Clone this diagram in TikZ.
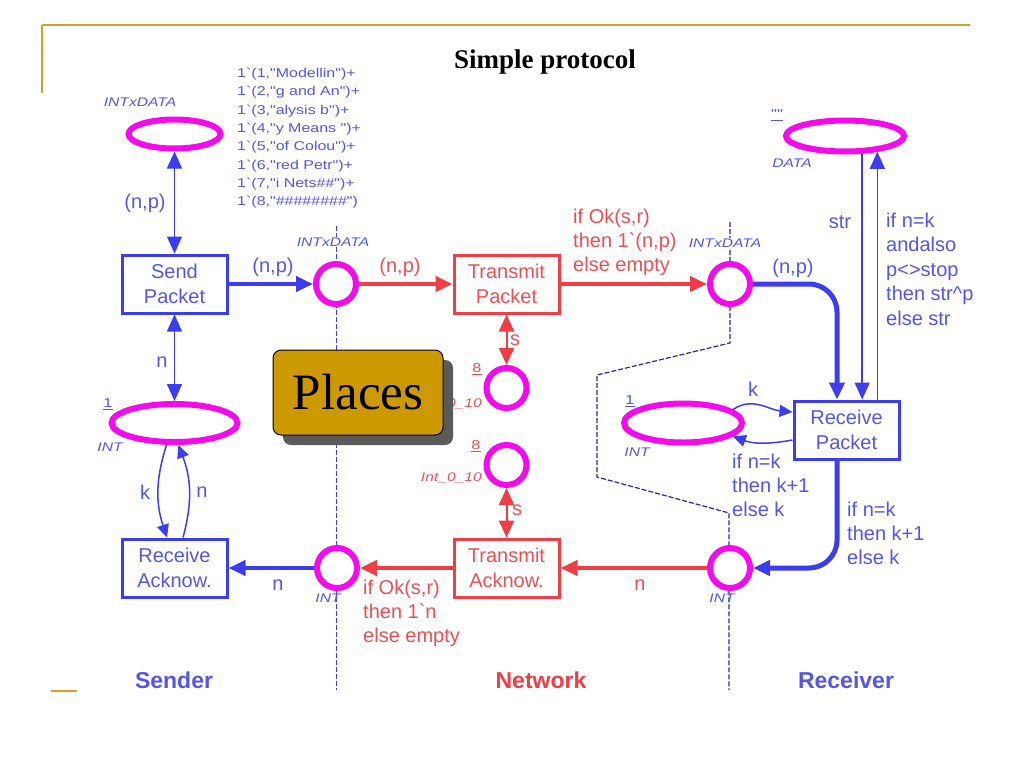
\documentclass[tikz,border=0pt]{standalone}
\usepackage{fontspec}
\usepackage{graphicx}
\newfontfamily\arial{Liberation Sans}
\newfontfamily\titlefont{Liberation Serif}
\newfontfamily\smallfont[FakeStretch=1.25]{Liberation Sans}
\usetikzlibrary{arrows.meta,shapes.geometric}
\pgfdeclarelayer{bg}
\pgfsetlayers{bg,main}
\definecolor{pblue}{RGB}{60,60,240}
\definecolor{tblue}{RGB}{85,85,235}
\definecolor{dblue}{RGB}{40,40,170}
\definecolor{pred}{RGB}{240,62,70}
\definecolor{tred}{RGB}{235,80,85}
\definecolor{pmag}{RGB}{245,10,235}
\definecolor{gold}{RGB}{210,162,40}
\definecolor{plbox}{RGB}{204,153,0}
\definecolor{shadowgray}{RGB}{90,90,90}
\tikzset{
  BT/.tip={Triangle[length=17pt,width=15pt]},
  ST/.tip={Triangle[length=13pt,width=12pt]},
  place/.style={draw=pmag, line width=6pt, fill=white, inner sep=0pt},
  circplace/.style={place, circle, minimum size=40pt},
  ellplace/.style={place, ellipse},
  trans/.style={line width=3pt, fill=white, minimum width=105pt, minimum height=58pt,
    align=center, inner sep=0pt, font=\arial\fontsize{20}{25}\selectfont},
  btrans/.style={trans, draw=pblue, text=tblue},
  rtrans/.style={trans, draw=pred, text=tred},
  barc/.style={draw=pblue, line width=4pt},
  rarc/.style={draw=pred, line width=4pt},
  rsarc/.style={draw=pred, line width=2pt},
  thinarc/.style={draw=pblue, line width=1.5pt},
  lab/.style={font=\arial\fontsize{20}{24}\selectfont, inner sep=0pt, align=left, text=tblue},
  rlab/.style={lab, text=tred},
  sm/.style={font=\smallfont\itshape\fontsize{12.5}{14}\selectfont, text=tblue, inner sep=1pt},
  smr/.style={sm, text=tred},
  smtok/.style={font=\smallfont\fontsize{13}{15}\selectfont, text=tblue, inner sep=0pt},
  smtokr/.style={smtok, text=tred},
  bot/.style={font=\arial\bfseries\fontsize{23}{26}\selectfont, inner sep=0pt},
  sep/.style={draw=pblue, line width=1pt, dash pattern=on 5pt off 2pt},
  sepd/.style={draw=dblue, line width=1.2pt, dash pattern=on 5pt off 2pt},
}
\begin{document}
\begin{tikzpicture}[x=1pt,y=-1pt]
\useasboundingbox (0,0) rectangle (1024,768);
\begin{pgfonlayer}{bg}
\fill[white] (0,0) rectangle (1024,768);
\end{pgfonlayer}

% frame decoration
\draw[gold, line width=2.5pt] (42,25) -- (970,25);
\draw[gold, line width=1.5pt] (42,25) -- (42,93);
\draw[gold, line width=2.5pt] (51,691) -- (77,691);
\node[font=\titlefont\bfseries\fontsize{27}{30}\selectfont, anchor=base, inner sep=0pt] (title) at (545,68) {Simple protocol};

% places
\node[ellplace, minimum width=92pt, minimum height=29pt] (P1) at (174.5,134) {};
\node[circplace] (P2) at (336,284) {};
\node[circplace] (P9) at (730,284) {};
\node[circplace] (P3) at (506.5,388) {};
\node[circplace] (P4) at (506.5,465) {};
\node[circplace] (P5) at (337,568) {};
\node[circplace] (P6) at (730,568) {};
\node[ellplace, minimum width=126pt, minimum height=38pt] (P7) at (174.5,423) {};
\node[ellplace, minimum width=118pt, minimum height=39pt] (P10) at (683,423) {};
\node[ellplace, minimum width=118pt, minimum height=31pt] (P8) at (845,136) {};

% transitions
\node[btrans] (SP) at (174.5,284) {Send\\Packet};
\node[rtrans] (TP) at (506.5,284) {Transmit\\Packet};
\node[rtrans] (TA) at (506.5,568) {Transmit\\Acknow.};
\node[btrans] (RA) at (174.5,568) {Receive\\Acknow.};
\node[btrans] (RP) at (846.5,430) {Receive\\Packet};

\begin{pgfonlayer}{bg}
% separators
\draw[sep] (336,226) -- (336,690);
\draw[sepd] (730,222) -- (730,343) -- (597,375) -- (597,477) -- (729,513) -- (729,690);
% arcs
\draw[thinarc, BT-BT] (P1.south) -- (SP.north);
\draw[thinarc, BT-BT] (SP.south) -- (P7.north);
\draw[barc, -BT] (SP.east) -- (P2.west);
\draw[rarc, -BT] (P2.east) -- (TP.west);
\draw[rarc, -BT] (TP.east) -- (P9.west);
\draw[rsarc, BT-BT] (TP.south) -- (P3.north);
\draw[rsarc, BT-BT] (P4.south) -- (TA.north);
\draw[rarc, -BT] (P6.west) -- (TA.east);
\draw[rarc, -BT] (TA.west) -- (P5.east);
\draw[barc, -BT] (P5.west) -- (RA.east);
\draw[thinarc, -ST] (P7.-110) to[bend right=18] ([xshift=-7.5pt]RA.north);
\draw[thinarc, -ST] ([xshift=8.5pt]RA.north) to[bend right=18] (P7.-80);
\draw[barc, line width=5pt, -BT, rounded corners=28pt] (P9.east) -| ([xshift=-9.5pt]RP.north);
\draw[barc, line width=5pt, -BT, rounded corners=28pt] ([xshift=-9.5pt]RP.south) |- (P6.east);
\draw[thinarc, -BT] (P8.-46) -- (P8.-46 |- RP.north);
\draw[thinarc, -BT] (RP.north -| P8.-26) -- (P8.-26);
\draw[thinarc, -ST] (P10.15) to[out=35,in=175] ([yshift=18pt]RP.west);
\draw[thinarc, -ST] ([yshift=-10pt]RP.west) to[out=190,in=-20] (P10.-15);
\end{pgfonlayer}

% labels
\node[sm, fill=white] (lP1) at (140,102) {INTxDATA};
\node[smtok, anchor=north west, align=left, font=\smallfont\fontsize{12.8}{18.3}\selectfont] (toks) at (237,68)
 {1`(1,"Modellin")+\\1`(2,"g and An")+\\1`(3,"alysis b")+\\1`(4,"y Means ")+\\1`(5,"of Colou")+\\1`(6,"red Petr")+\\1`(7,"i Nets\#\#")+\\1`(8,"\#\#\#\#\#\#\#\#")};
\node[lab] (a1) at (145,203) {(n,p)};
\node[lab] (a2) at (162,362) {n};
\node[lab] (a3) at (273,267) {(n,p)};
\node[sm, fill=white] (lP2) at (333,242) {INTxDATA};
\node[rlab] (a4) at (400,267) {(n,p)};
\node[rlab, anchor=west] (a5) at (573,242) {if Ok(s,r)\\then 1`(n,p)\\else empty};
\node[sm, fill=white] (lP9) at (725,243) {INTxDATA};
\node[lab] (a6) at (793,268) {(n,p)};
\node[lab] (a7) at (840,222) {str};
\node[lab, anchor=west, font=\arial\fontsize{20}{24.5}\selectfont] (a8) at (886,269) {if n=k\\andalso\\p<>stop\\then str\textasciicircum p\\else str};
\node[sm] (lP8) at (792,163) {DATA};
\node[smtok] (m8) at (777,115) {\underline{""}};
\node[lab] (a9) at (753,389) {k};
\node[lab, anchor=west] (a10) at (732,485) {if n=k\\then k+1\\else k};
\node[lab, anchor=west] (a11) at (847,533) {if n=k\\then k+1\\else k};
\node[smtok] (m10) at (630,401) {\underline{1}};
\node[sm] (lP10) at (637,452) {INT};
\node[sm] (lP6) at (722,598) {INT};
\node[rlab] (a12) at (640,585) {n};
\node[sm] (lP5) at (328,598) {INT};
\node[lab] (a13) at (278,585) {n};
\node[rlab, anchor=west] (a14) at (363,613) {if Ok(s,r)\\then 1`n\\else empty};
\node[smtokr] (m4) at (476,446) {\underline{8}};
\node[smr, anchor=east] (lP4) at (483,478) {Int\_0\_10};
\node[rlab] (a15) at (517,510) {s};
\node[smtokr] (m3) at (477,369) {\underline{8}};
\node[smr, anchor=east] (lP3) at (483,404) {Int\_0\_10};
\node[rlab] (a16) at (515,340) {s};
\node[smtok] (m7) at (108,404) {\underline{1}};
\node[sm] (lP7) at (110,447) {INT};
\node[lab] (a17) at (145,492) {k};
\node[lab] (a18) at (202,492) {n};

\node[bot, text=tblue] (sender) at (174,680) {Sender};
\node[bot, text=pred] (network) at (541,680) {Network};
\node[bot, text=tblue] (receiver) at (846,680) {Receiver};

% Places callout
\fill[shadowgray, rounded corners=8pt] (283,360) rectangle (453,445);
\node[draw=black, line width=1pt, fill=plbox, rounded corners=8pt, minimum width=170pt, minimum height=85pt,
  inner sep=0pt, font=\titlefont\fontsize{51}{55}\selectfont] (PB) at (358,392.5) {Places};
\end{tikzpicture}
\end{document}
